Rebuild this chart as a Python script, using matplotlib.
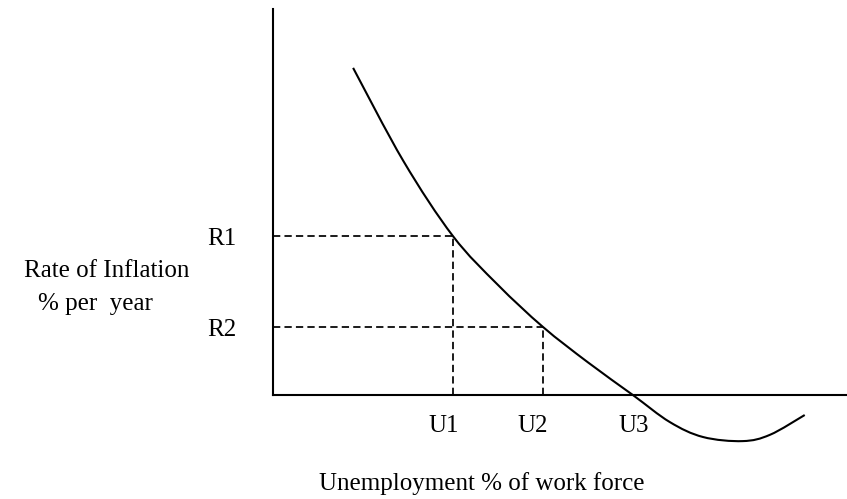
import matplotlib
matplotlib.use("Agg")
import matplotlib.pyplot as plt
from matplotlib.path import Path
from matplotlib.patches import PathPatch

plt.rcParams['font.family'] = ['Liberation Serif', 'DejaVu Serif']

# Phillips curve: unemployment (x) against rate of inflation (y), arbitrary units
curve_u = [1.78, 2.9, 4.0, 5.0, 6.0, 7.0, 8.0, 8.82, 9.56, 10.44, 11.05, 11.82]
curve_r = [14.41, 10.3, 7.0, 4.85, 3.0, 1.44, 0.0, -1.19, -1.85, -2.03, -1.75,
           -0.88]

# marked points on the curve
u_marks = [4.0, 6.0]
r_marks = [7.0, 3.0]
r_labels = ['R1', 'R2']
u_label_pos = [3.8, 5.78, 8.02]
u_labels = ['U1', 'U2', 'U3']


def smooth_path(xs, ys):
    # Catmull-Rom through every point, written as cubic Bezier segments
    pts = list(zip(xs, ys))
    verts = [pts[0]]
    codes = [Path.MOVETO]
    for i in range(len(pts) - 1):
        p0 = pts[i - 1] if i > 0 else pts[i]
        p1, p2 = pts[i], pts[i + 1]
        p3 = pts[i + 2] if i + 2 < len(pts) else pts[i + 1]
        c1 = (p1[0] + (p2[0] - p0[0]) / 6, p1[1] + (p2[1] - p0[1]) / 6)
        c2 = (p2[0] - (p3[0] - p1[0]) / 6, p2[1] - (p3[1] - p1[1]) / 6)
        verts += [c1, c2, p2]
        codes += [Path.CURVE4] * 3
    return Path(verts, codes)


fig = plt.figure(figsize=(8.47, 4.99), dpi=100)
ax = fig.add_axes([0, 0, 1, 1])
ax.set_xlim(-6.07, 12.76)
ax.set_ylim(-4.58, 17.4)

# axes as two plain lines meeting at the origin
for side in ['top', 'right']:
    ax.spines[side].set_visible(False)
ax.spines['left'].set_position(('data', 0))
ax.spines['bottom'].set_position(('data', 0))
ax.spines['left'].set_bounds(0, 17)
ax.spines['bottom'].set_bounds(0, 12.76)
for side in ['left', 'bottom']:
    ax.spines[side].set_linewidth(1.5)
ax.set_xticks([])
ax.set_yticks([])
ax.patch.set_visible(False)

ax.add_patch(PathPatch(smooth_path(curve_u, curve_r), fill=False,
                       edgecolor='black', lw=1.5, capstyle='butt'))

# dashed guides from the curve back to each axis
dash = (0, (4.2, 2.4))
ax.hlines(r_marks, 0, u_marks, colors='black', lw=1.25, linestyles=[dash])
ax.vlines(u_marks, 0, r_marks, colors='black', lw=1.25, linestyles=[dash])

fs = 18
for r, lab in zip(r_marks, r_labels):
    ax.text(-0.82, r - 0.4, lab, ha='right', va='baseline', fontsize=fs)
for u, lab in zip(u_label_pos, u_labels):
    ax.text(u, -1.63, lab, ha='center', va='baseline', fontsize=fs)

ax.text(-3.7, 5.2, 'Rate of Inflation', ha='center', va='baseline', fontsize=fs)
ax.text(-3.95, 3.75, '% per  year', ha='center', va='baseline', fontsize=fs)
ax.text(4.64, -4.19, 'Unemployment % of work force', ha='center',
        va='baseline', fontsize=fs)

fig.savefig('out.png', dpi=100)
